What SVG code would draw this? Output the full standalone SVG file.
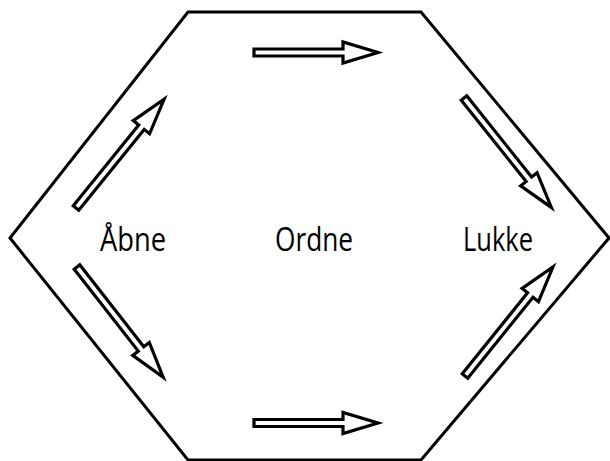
<svg xmlns="http://www.w3.org/2000/svg" width="610" height="461" viewBox="0 0 610 461">
<style>
.hex{fill:none;stroke:#000;stroke-width:3;stroke-linejoin:miter}
.arr{fill:#fff;stroke:#000;stroke-width:3.2;stroke-linejoin:miter;stroke-miterlimit:10}
.lbl{font-family:"Open Sans","Noto Sans",sans-serif;font-size:32px;fill:#000}
</style>
<defs>
<path id="shortArrow" d="M0,-3.5 H89 V-10.5 L124,0 L89,10.5 V3.5 H0 Z"/>
<path id="longArrow" d="M0,-3.5 H104 V-10.5 L140,0 L104,10.5 V3.5 H0 Z"/>
</defs>
<rect width="610" height="461" fill="#fff"/>
<g id="hexagon">
<polygon class="hex" points="188,12 421,12 609,238 421,460 188,460 10,238"/>
</g>
<g id="connectors">
<use href="#shortArrow" class="arr" transform="translate(254,52.5)"/>
<use href="#shortArrow" class="arr" transform="translate(254,423)"/>
<use href="#longArrow" class="arr" transform="translate(76,208) rotate(-51)"/>
<use href="#longArrow" class="arr" transform="translate(77,267) rotate(52)"/>
<use href="#longArrow" class="arr" transform="translate(464,98) rotate(51.4)"/>
<use href="#longArrow" class="arr" transform="translate(465,376) rotate(-51.1)"/>
</g>
<g id="node-abne">
<text class="lbl" x="100" y="251" textLength="66" lengthAdjust="spacingAndGlyphs">Åbne</text>
</g>
<g id="node-ordne">
<text class="lbl" x="275" y="251" textLength="78" lengthAdjust="spacingAndGlyphs">Ordne</text>
</g>
<g id="node-lukke">
<text class="lbl" x="463" y="251" textLength="70" lengthAdjust="spacingAndGlyphs">Lukke</text>
</g>
</svg>
